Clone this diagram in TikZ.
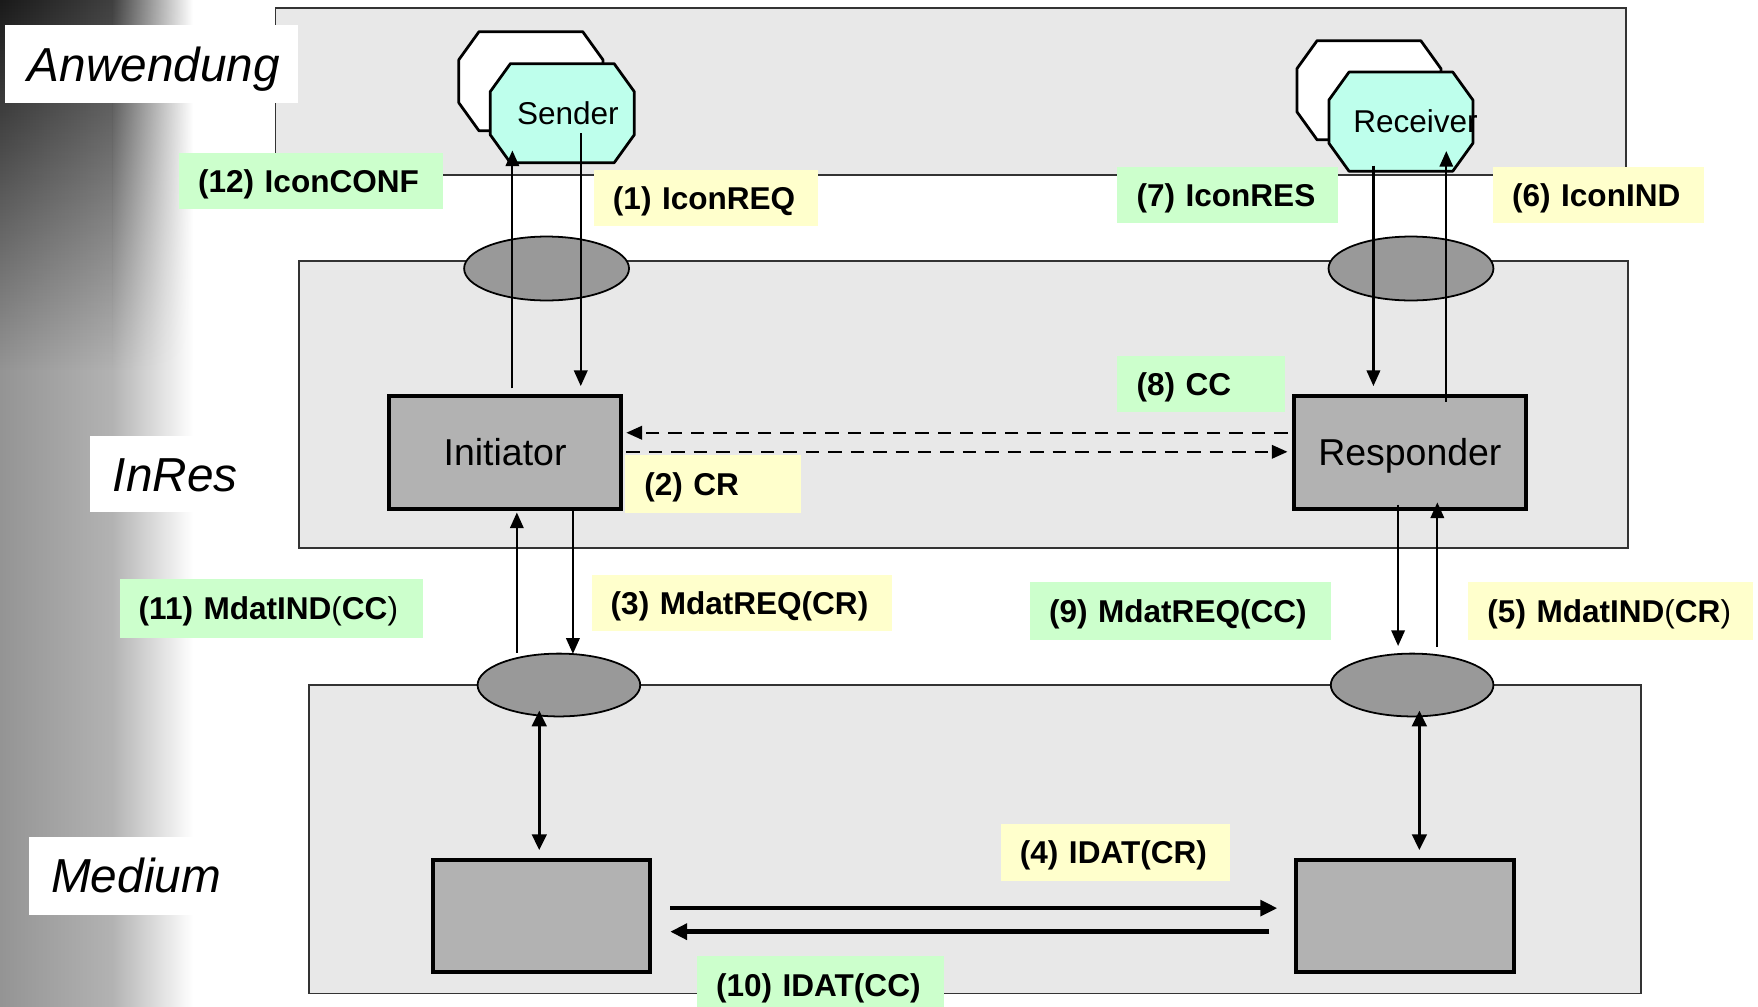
\documentclass[tikz,border=0pt]{standalone}
\usepackage{fontspec}
\setmainfont{Liberation Sans}
\usetikzlibrary{arrows.meta, calc, fadings, shapes.geometric, positioning}

\definecolor{laygray}{HTML}{E8E8E8}
\definecolor{portgray}{HTML}{999999}
\definecolor{procgray}{HTML}{B2B2B2}
\definecolor{labgreen}{HTML}{CCFFCC}
\definecolor{labyellow}{HTML}{FFFFCC}
\definecolor{octcyan}{RGB}{190,255,236}

\tikzset{
    layer/.style={draw=black!80, line width=0.45pt, fill=laygray, inner sep=0pt},
    layername/.style={fill=white, anchor=north west, inner xsep=0.2cm, inner ysep=0pt,
        align=left, text height=8.66pt, text depth=0pt,
        font=\fontsize{12.1}{14.5}\selectfont\itshape},
    octbox/.style={draw=none, inner sep=0pt, minimum width=1.27cm, minimum height=0.87cm},
    octtext/.style={inner sep=0pt, text height=5.75pt, text depth=0pt, font=\fontsize{8}{9.6}\selectfont},
    octline/.style={draw=black, line width=0.7pt, line join=round},
    port/.style={ellipse, draw=black, line width=0.45pt, fill=portgray, inner sep=0pt,
        minimum width=1.47cm, minimum height=0.57cm},
    proc/.style={draw=black, line width=0.9pt, fill=procgray, inner sep=0pt,
        minimum width=2.07cm, minimum height=1.01cm, text height=6.8pt, text depth=0pt,
        font=\fontsize{9.5}{11.4}\selectfont},
    lab/.style={fill=#1, anchor=north west, inner xsep=0.17cm, inner ysep=0pt, align=left,
        minimum height=0.5cm, text height=5.75pt, text depth=0pt,
        font=\fontsize{8}{9.6}\selectfont\bfseries},
    arr/.style={-{Triangle[length=1.4mm, width=1.2mm]}, line width=0.55pt},
    dasharr/.style={arr, dash pattern=on 1.2mm off 0.8mm},
    dblarr/.style={{Triangle[length=1.4mm, width=1.3mm]}-{Triangle[length=1.4mm, width=1.3mm]}, line width=0.7pt},
    thickarr/.style={-{Triangle[length=1.5mm, width=1.4mm]}}
}

% octagon round an invisible node
\newcommand{\drawocta}[2]{%
    \draw[octline, fill=#2] ($(#1.north west)+(18,0)$) -- ($(#1.north east)+(-18,0)$)
        -- ($(#1.north east)+(0,25)$) -- ($(#1.south east)+(0,-25)$)
        -- ($(#1.south east)+(-18,0)$) -- ($(#1.south west)+(18,0)$)
        -- ($(#1.south west)+(0,-25)$) -- ($(#1.north west)+(0,25)$) -- cycle;}

\begin{document}
\begin{tikzpicture}[x=0.01cm, y=-0.01cm]
    \useasboundingbox (0,0) rectangle (1568,898);

    % Background strip on the left
    \shade[left color=black!42, right color=black!30] (0,0) rectangle (100,898);
    \shade[left color=black!30, right color=white] (100,0) rectangle (172,898);
    \shade[left color=black!90, right color=black!75, path fading=south] (0,0) rectangle (100,330);
    \shade[left color=black!75, right color=white, path fading=south] (100,0) rectangle (172,330);

    % Layers
    \node[layer, minimum width=12.04cm, minimum height=1.49cm] (anw) at (848,81.5) {};
    \node[layer, minimum width=11.85cm, minimum height=2.56cm] (inres) at (859.5,361) {};
    \node[layer, minimum width=11.87cm, minimum height=2.75cm] (med) at (869.5,748.5) {};

    \node[layername, text width=2.21cm, minimum height=0.69cm] (anwname) at (4,22) {Anwendung};
    \node[layername, text width=1.23cm, minimum height=0.68cm] (inresname) at (80,388) {InRes};
    \node[layername, text width=1.50cm, minimum height=0.69cm] (medname) at (25,746) {Medium};

    % Sender and Receiver
    \node[octbox] (senderbg) at (473.5,72.5) {};
    \drawocta{senderbg}{white}
    \node[octbox] (sender) at (501.5,101) {};
    \drawocta{sender}{octcyan}
    \node[octtext] (sendertxt) at ($(sender)+(5,0)$) {Sender};

    \node[octbox] (recvbg) at (1221,80.5) {};
    \drawocta{recvbg}{white}
    \node[octbox] (recv) at (1249.5,108.5) {};
    \drawocta{recv}{octcyan}
    \node[octtext] (recvtxt) at ($(recv)+(13,0)$) {Receiver};

    % Service access points
    \node[port] (sap1) at (487.5,239.5) {};
    \node[port] (sap2) at (1258.5,239.5) {};
    \node[port, minimum width=1.45cm, minimum height=0.56cm] (map1) at (498.5,611) {};
    \node[port, minimum width=1.45cm, minimum height=0.56cm] (map2) at (1259.5,611) {};

    % Protocol entities
    \node[proc] (init) at (450.5,403.5) {Initiator};
    \node[proc] (resp) at (1257.5,403.5) {Responder};
    \node[proc, line width=1pt, minimum width=1.94cm, minimum height=1.0cm] (medl) at (483,817) {};
    \node[proc, line width=1pt, minimum width=1.94cm, minimum height=1.0cm] (medr) at (1253,817) {};

    % Labels
    \node[lab=labgreen, text width=2.01cm] (l12) at (159,136) {(12) IconCONF};
    \node[lab=labyellow, text width=1.66cm] (l1) at (529,151) {(1) IconREQ};
    \node[lab=labgreen, text width=1.63cm] (l7) at (996,148) {(7) IconRES};
    \node[lab=labyellow, text width=1.54cm] (l6) at (1331,148) {(6) IconIND};
    \node[lab=labgreen, text width=1.15cm] (l8) at (996,317) {(8) CC};
    \node[lab=labyellow, text width=1.23cm, minimum height=0.52cm] (l2) at (557,405) {(2) CR};
    \node[lab=labgreen, text width=2.36cm, minimum height=0.52cm] (l11) at (106,516) {(11) MdatIND{\mdseries(}CC{\mdseries)}};
    \node[lab=labyellow, text width=2.34cm] (l3) at (527,512) {(3) MdatREQ(CR)};
    \node[lab=labgreen, text width=2.34cm, minimum height=0.52cm] (l9) at (918,518) {(9) MdatREQ(CC)};
    \node[lab=labyellow, text width=2.20cm, minimum height=0.52cm] (l5) at (1309,518) {(5) MdatIND{\mdseries(}CR{\mdseries)}};
    \node[lab=labyellow, text width=1.70cm, minimum height=0.51cm] (l4) at (892,734) {(4) IDAT(CR)};
    \node[lab=labgreen, text width=1.86cm, minimum height=0.52cm] (l10) at (621,852) {(10) IDAT(CC)};

    % Arrows, sender side
    \draw[arr] ($(init.north)+(6.5,-5)$) -- ($(init.north |- sender.south)+(6.5,-11)$);
    \draw[arr] ($(init.north |- sender.center)+(67.5,18)$) -- ($(init.north)+(67.5,-7)$);
    \draw[arr] ($(init.south |- map1.north)+(10.5,0)$) -- ($(init.south)+(10.5,1.5)$);
    \draw[arr] ($(init.south)+(60.5,0)$) -- ($(init.south |- map1.north)+(60.5,1)$);

    % Arrows, receiver side
    \draw[arr] ($(resp.north |- recv.south)+(-32.5,-5)$) -- ($(resp.north)+(-32.5,-7)$);
    \draw[arr] ($(resp.north)+(32.5,7)$) -- ($(resp.north |- recv.south)+(32.5,-18)$);
    \draw[arr] ($(resp.south)+(-10.5,-5.5)$) -- ($(resp.south |- map2.north)+(-10.5,-6)$);
    \draw[arr] ($(resp.south |- map2.north)+(24.5,-5)$) -- ($(resp.south)+(24.5,-7.5)$);

    % Peer messages
    \draw[dasharr] ($(resp.west)+(-4,-17.5)$) -- ($(init.east)+(3,-17.5)$);
    \draw[dasharr] ($(init.east)+(3,-0.5)$) -- ($(resp.west)+(-4,-0.5)$);

    % Medium
    \draw[dblarr] ($(medl.north |- map1.south)+(-2,-6)$) -- ($(medl.north)+(-2,-7)$);
    \draw[dblarr] ($(medr.north |- map2.south)+(13,-6)$) -- ($(medr.north)+(13,-7)$);
    \draw[thickarr, line width=0.9pt] ($(medl.east)+(16,-7)$) -- ($(medr.west)+(-15,-7)$);
    \draw[thickarr, line width=1.3pt] ($(medr.west)+(-22,14)$) -- ($(medl.east)+(16,14)$);

\end{tikzpicture}
\end{document}
